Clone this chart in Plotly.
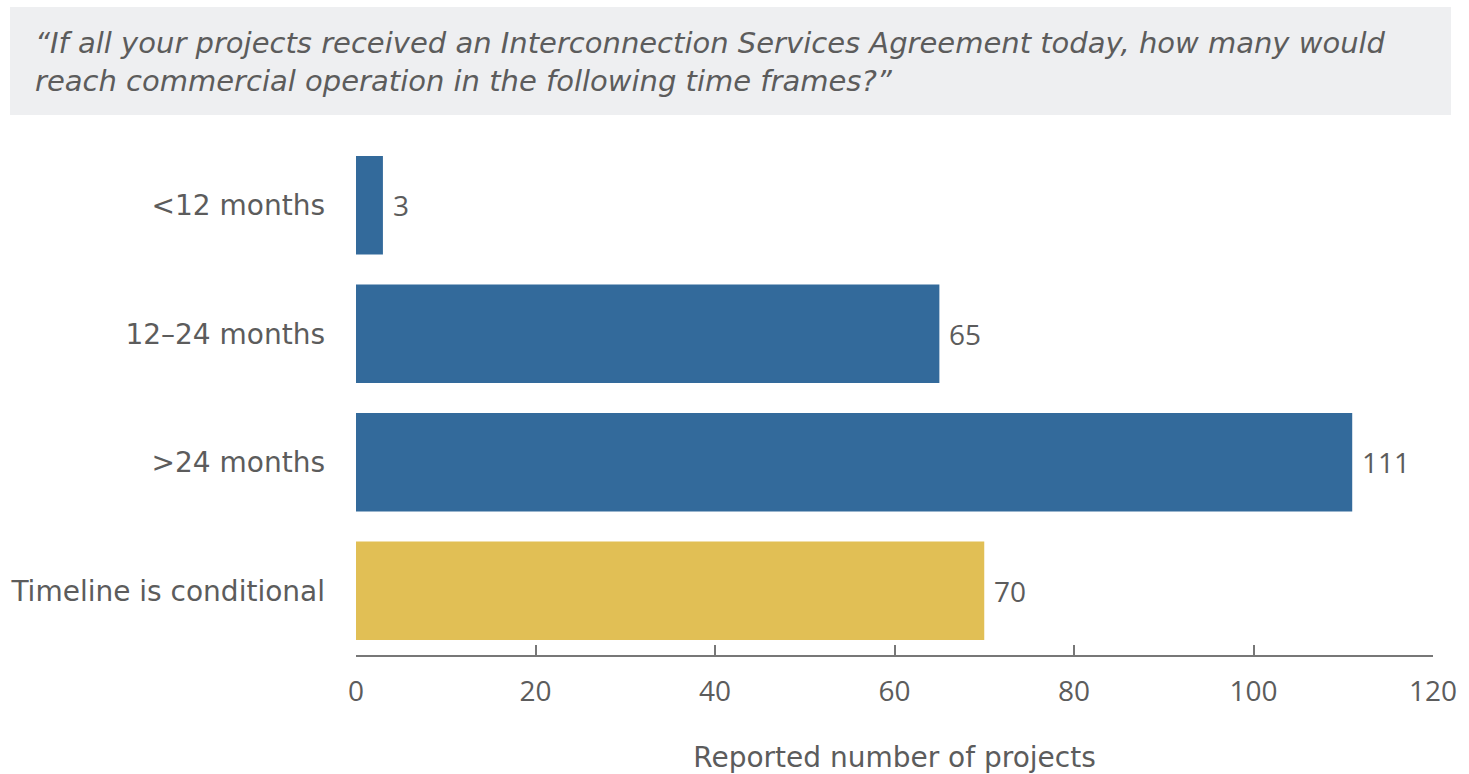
import plotly.graph_objects as go

# Survey responses: projected time to commercial operation
categories = ["<12 months", "12\u201324 months", ">24 months", "Timeline is conditional"]
projects = [3, 65, 111, 70]
bar_colors = ["#336A9B", "#336A9B", "#336A9B", "#E1BF55"]
x_ticks = [0, 20, 40, 60, 80, 100, 120]

question = ("\u201cIf all your projects received an Interconnection Services Agreement today, how many would<br>"
            "reach commercial operation in the following time frames?\u201d")

TEXT = "#5C5C5C"
NUM_FONT = "Open Sans"
LABEL_FONT = "DejaVu Sans"

# plot area in pixels (for placing the banner in paper coordinates)
L, R, T, B = 356, 36, 141, 119
W, H = 1469, 774
PW, PH = W - L - R, H - T - B


def px_x(x):
    return (x - L) / PW


def px_y(y):
    return (H - B - y) / PH


fig = go.Figure()
fig.add_trace(go.Bar(
    y=categories,
    x=projects,
    orientation="h",
    marker=dict(color=bar_colors, line=dict(width=0)),
    width=0.765,
    hoverinfo="x+y",
))

# value labels at the end of each bar
for cat, val in zip(categories, projects):
    fig.add_annotation(
        x=val, y=cat, xref="x", yref="y",
        text=str(val), showarrow=False,
        xanchor="left", yanchor="middle", xshift=8,
        font=dict(family=NUM_FONT, size=28, color=TEXT),
    )

# question banner above the plot
fig.add_shape(
    type="rect", xref="paper", yref="paper",
    x0=px_x(10), x1=px_x(1451), y0=px_y(115), y1=px_y(7),
    fillcolor="#EEEFF1", line=dict(width=0), layer="below",
)
fig.add_annotation(
    x=px_x(33), y=px_y(62), xref="paper", yref="paper",
    text="<i>" + question + "</i>", showarrow=False,
    xanchor="left", yanchor="middle", align="left",
    font=dict(family=LABEL_FONT, size=29, color=TEXT),
)

fig.update_layout(
    width=W, height=H,
    margin=dict(l=L, r=R, t=T, b=B),
    paper_bgcolor="white", plot_bgcolor="white",
    showlegend=False,
    bargap=0.235,
    font=dict(family=LABEL_FONT, color=TEXT),
)
fig.update_xaxes(
    range=[0, 120], tickvals=x_ticks, ticktext=[str(v) for v in x_ticks],
    automargin=False,
    showgrid=False, zeroline=False,
    showline=True, linecolor="#777777", linewidth=2,
    ticks="inside", ticklen=10, tickwidth=2, tickcolor="#777777",
    tickfont=dict(family=NUM_FONT, size=28, color=TEXT),
    ticklabelstandoff=10,
    title=dict(text="Reported number of projects", standoff=44,
               font=dict(family=LABEL_FONT, size=28, color=TEXT)),
)
fig.update_yaxes(
    autorange="reversed", categoryorder="array", categoryarray=categories,
    automargin=False,
    showgrid=False, zeroline=False, showline=False, ticks="",
    tickfont=dict(family=LABEL_FONT, size=28, color=TEXT),
    ticklabelstandoff=30,
)

fig.write_html("out.html")
